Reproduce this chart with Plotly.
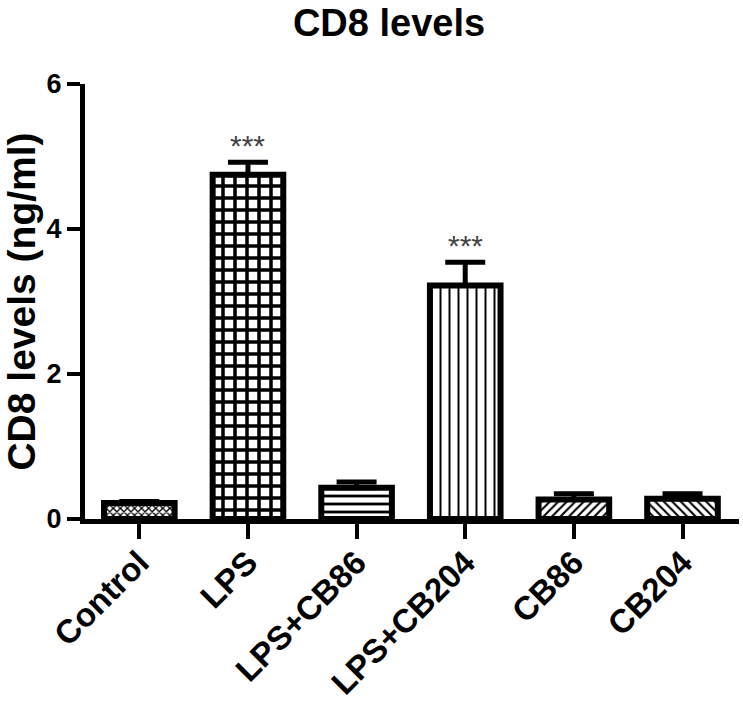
import plotly.graph_objects as go

# datos
groups = ["Control", "LPS", "LPS+CB86", "LPS+CB204", "CB86", "CB204"]
means = [0.22, 4.75, 0.43, 3.22, 0.27, 0.28]
sem = [0.02, 0.17, 0.08, 0.32, 0.08, 0.07]
stars = ["", "***", "", "***", "", ""]
y_ticks = [0, 2, 4, 6]

# relleno de cada barra (blanco y negro, como en el original)
patterns = ["x", "+", "-", "|", "/", "\\"]
pattern_sizes = [5, 12, 8, 9, 6, 6]
pattern_solid = [0.45, 0.5, 0.35, 0.22, 0.35, 0.35]

FONT = "Arial, Liberation Sans, sans-serif"

fig = go.Figure()
fig.add_trace(go.Bar(
    x=groups,
    y=means,
    width=0.65,
    marker=dict(
        color="white",
        line=dict(color="black", width=6),
        pattern=dict(
            shape=patterns,
            size=pattern_sizes,
            solidity=pattern_solid,
            fgcolor="black",
            bgcolor="white",
            fillmode="replace",
        ),
    ),
    error_y=dict(
        type="data", symmetric=False, array=sem, arrayminus=[0] * len(sem),
        color="black", thickness=5, width=20,
    ),
    showlegend=False,
))

# asteriscos de significancia
for g, m, e, s in zip(groups, means, sem, stars):
    if s:
        fig.add_annotation(
            x=g, y=m + e, text=s, showarrow=False,
            yanchor="bottom", yshift=-2,
            font=dict(family=FONT, size=30, color="#444444"),
        )

fig.update_layout(
    width=743, height=702,
    margin=dict(l=85, r=4, t=84, b=183, autoexpand=False),
    title=dict(
        text="<b>CD8 levels</b>", x=389 / 743, xref="container", xanchor="center",
        y=1 - 9 / 702, yanchor="top",
        font=dict(family=FONT, size=38, color="black"),
    ),
    plot_bgcolor="white",
    paper_bgcolor="white",
    font=dict(family=FONT, color="black"),
)

fig.update_xaxes(
    range=[-0.5, 5.52],
    showline=True, linecolor="black", linewidth=5,
    ticks="outside", ticklen=15, tickwidth=4, tickcolor="black",
    tickangle=-45, ticklabelstandoff=-9,
    tickfont=dict(family=FONT, size=33, color="black", weight="bold"),
    showgrid=False, zeroline=False, automargin=False,
)
fig.update_yaxes(
    range=[0, 6],
    tickvals=y_ticks,
    showline=True, linecolor="black", linewidth=5,
    ticks="outside", ticklen=13, tickwidth=4, tickcolor="black",
    tickfont=dict(family=FONT, size=27, color="black", weight="bold"),
    title=dict(text="<b>CD8 levels (ng/ml)</b>", font=dict(family=FONT, size=39, color="black"), standoff=14),
    showgrid=False, zeroline=False, automargin=False,
)

# sin margen del body para que la figura quede en (0,0) de la ventana
fig.write_html(
    "out.html",
    config={"displayModeBar": False},
    post_script="document.body.style.margin='0';",
)
